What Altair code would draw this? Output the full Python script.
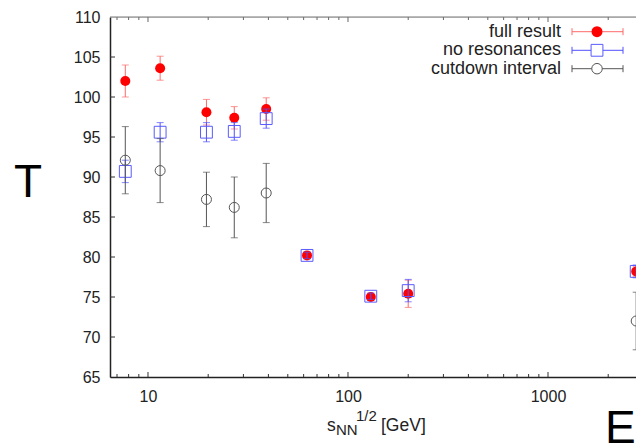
import altair as alt
import pandas as pd

# ---- data ----
energy = [7.7, 11.5, 19.6, 27, 39, 62.4, 130, 200, 2760]
full_T = [102.0, 103.6, 98.1, 97.4, 98.5, 80.2, 75.0, 75.4, 78.2]
full_err = [2.0, 1.5, 1.6, 1.4, 1.4, 0.4, 0.4, 1.7, 0.6]
nores_T = [90.7, 95.6, 95.6, 95.7, 97.3, 80.2, 75.1, 75.8, 78.2]
nores_err = [1.4, 1.2, 1.2, 1.1, 1.2, 0.4, 0.4, 1.4, 0.8]
cut_energy = [7.7, 11.5, 19.6, 27, 39, 2760]
cut_T = [92.1, 90.8, 87.2, 86.2, 88.0, 72.0]
cut_err = [4.2, 4.0, 3.4, 3.8, 3.7, 3.6]

legend_labels = ["full result", "no resonances", "cutdown interval"]
x_major = [10, 100, 1000]
x_minor = [7, 8, 9, 20, 30, 40, 50, 60, 70, 80, 90,
           200, 300, 400, 500, 600, 700, 800, 900, 2000]
y_ticks = [65, 70, 75, 80, 85, 90, 95, 100, 105, 110]

FONT = "Liberation Sans"
W, H = 526, 360

xscale = alt.Scale(type="log", domain=[6.457, 2754], nice=False)
yscale = alt.Scale(domain=[65, 110], nice=False, zero=False)
xaxis = alt.Axis(values=x_major, format="d", labelFont=FONT, labelFontSize=16,
                 labelColor="#222", ticks=False, tickSize=0, domainColor="#222",
                 domainWidth=1.5, labelPadding=11, title=None, grid=False)
yaxis = alt.Axis(values=y_ticks, labelFont=FONT, labelFontSize=16,
                 labelColor="#222", ticks=False, tickSize=0, domainColor="#222",
                 domainWidth=1.5, labelPadding=10, title=None, grid=False)


def X(f):
    return alt.X(f, type="quantitative", scale=xscale, axis=xaxis)


def Y(f):
    return alt.Y(f, type="quantitative", scale=yscale, axis=yaxis)


def frame(e, t, err):
    return pd.DataFrame({"E": e, "T": t,
                         "lo": [a - b for a, b in zip(t, err)],
                         "hi": [a + b for a, b in zip(t, err)]})


def series(d, color, ecolor, shape, filled, size):
    base = alt.Chart(d)
    rule = base.mark_rule(color=ecolor, strokeWidth=1, clip=True).encode(
        x=X("E"), y=Y("lo"), y2="hi")
    c1 = base.mark_tick(orient="horizontal", color=ecolor, size=7,
                        thickness=1, clip=True).encode(x=X("E"), y=Y("lo"))
    c2 = base.mark_tick(orient="horizontal", color=ecolor, size=7,
                        thickness=1, clip=True).encode(x=X("E"), y=Y("hi"))
    if filled:
        pts = base.mark_point(shape=shape, filled=True, size=size, fill=color,
                              stroke=None, opacity=1, clip=True)
    else:
        pts = base.mark_point(shape=shape, filled=False, size=size,
                              stroke=color, strokeWidth=1, opacity=1, clip=True)
    pts = pts.encode(x=X("E"), y=Y("T"))
    return [rule, c1, c2, pts]


layers = []

# tick marks (inward, gnuplot style)
maj = pd.DataFrame({"v": x_major})
mnr = pd.DataFrame({"v": x_minor})
yt = pd.DataFrame({"v": y_ticks[1:-1]})
for d, L in [(maj, 5), (mnr, 3)]:
    layers.append(alt.Chart(d).mark_rule(color="#333", strokeWidth=1).encode(
        x=X("v"), y=alt.value(H), y2=alt.value(H - L)))
    layers.append(alt.Chart(d).mark_rule(color="#666", strokeWidth=1).encode(
        x=X("v"), y=alt.value(0), y2=alt.value(L)))
layers.append(alt.Chart(yt).mark_rule(color="#333", strokeWidth=1).encode(
    y=Y("v"), x=alt.value(0), x2=alt.value(5)))

# top border
layers.append(alt.Chart(pd.DataFrame({"a": [0]})).mark_rule(
    color="#777", strokeWidth=1).encode(x=alt.value(0), x2=alt.value(W), y=alt.value(0)))

# data series
layers += series(frame(energy, full_T, full_err), "#ff0000", "#ff6a6a", "circle", True, 100)
layers += series(frame(energy, nores_T, nores_err), "#5a5aff", "#5050ff", "square", False, 140)
layers += series(frame(cut_energy, cut_T, cut_err), "#555555", "#555555", "circle", False, 100)

# legend
leg_style = [("#ff0000", "#ff6a6a", "circle", True, 120),
             ("#5a5aff", "#5050ff", "square", False, 140),
             ("#555555", "#555555", "circle", False, 110)]
row_y = [14.7, 33.3, 51.7]
one = pd.DataFrame({"a": [0]})
for lab, (col, ecol, shp, fil, sz), ry in zip(legend_labels, leg_style, row_y):
    layers.append(alt.Chart(pd.DataFrame({"label": [lab]})).mark_text(
        align="right", baseline="middle", font=FONT, fontSize=18, color="#222").encode(
        x=alt.value(451), y=alt.value(ry), text="label:N"))
    layers.append(alt.Chart(one).mark_rule(color=ecol, strokeWidth=1).encode(
        x=alt.value(462), x2=alt.value(513), y=alt.value(ry)))
    for cx in (462, 513):
        layers.append(alt.Chart(one).mark_rule(color=ecol, strokeWidth=1).encode(
            x=alt.value(cx), y=alt.value(ry - 3.5), y2=alt.value(ry + 3.5)))
    if fil:
        m = alt.Chart(one).mark_point(shape=shp, filled=True, size=sz, fill=col,
                                      stroke=None, opacity=1)
    else:
        m = alt.Chart(one).mark_point(shape=shp, filled=False, size=sz, stroke=col,
                                      strokeWidth=1, opacity=1, fill="white", fillOpacity=1)
    layers.append(m.encode(x=alt.value(487), y=alt.value(ry)))

# axis title  s_NN^{1/2} [GeV]
title_parts = [("s", 217, 414, 17.5), ("NN", 226, 418, 15), ("1/2", 246, 403.5, 15),
               ("[GeV]", 271, 414, 17.5)]
for txt, tx, ty, fs in title_parts:
    layers.append(alt.Chart(pd.DataFrame({"t": [txt]})).mark_text(
        align="left", baseline="alphabetic", font=FONT, fontSize=fs, color="#222").encode(
        x=alt.value(tx), y=alt.value(ty), text="t:N"))

# stray large letters from the page
for txt, tx, ty in [("T", -82, 180), ("E", 495, 426)]:
    layers.append(alt.Chart(pd.DataFrame({"t": [txt]})).mark_text(
        align="left" if txt == "E" else "center", baseline="alphabetic", font=FONT,
        fontSize=46, color="#000").encode(x=alt.value(tx), y=alt.value(ty), text="t:N"))

chart = alt.layer(*layers).properties(
    width=W, height=H, autosize="none",
    padding={"left": 110, "top": 17, "right": 0, "bottom": 67},
).configure_view(stroke=None).configure(background="white")

chart.save("out.html", embed_options={"renderer": "svg", "actions": False})
